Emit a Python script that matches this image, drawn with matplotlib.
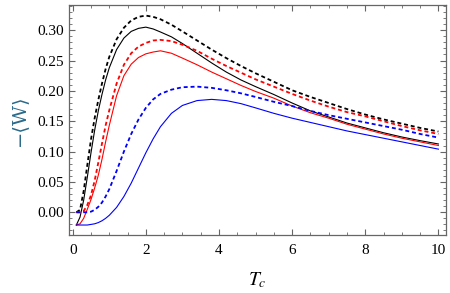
import matplotlib
matplotlib.use('Agg')
import matplotlib.pyplot as plt
from matplotlib.ticker import MultipleLocator

# Tc grid shared by all curves
tc = [0.1, 0.2, 0.3, 0.4, 0.5, 0.6, 0.7, 0.8, 0.9, 1.0, 1.2, 1.4, 1.6, 1.8,
      2.0, 2.2, 2.4, 2.7, 3.0, 3.4, 3.8, 4.2, 4.6, 5.0, 5.5, 6.0, 6.5, 7.0,
      7.5, 8.0, 8.5, 9.0, 9.5, 10.0]

black_dashed = [0.000, 0.004, 0.035, 0.078, 0.120, 0.155, 0.185, 0.212, 0.236, 0.256,
                0.285, 0.304, 0.316, 0.322, 0.324, 0.322, 0.318, 0.309, 0.298, 0.283,
                0.268, 0.254, 0.241, 0.229, 0.215, 0.201, 0.190, 0.180, 0.170, 0.161,
                0.153, 0.146, 0.139, 0.133]
black_solid = [-0.021, -0.008, 0.020, 0.058, 0.098, 0.135, 0.167, 0.194, 0.218, 0.238,
               0.268, 0.287, 0.298, 0.303, 0.305, 0.302, 0.297, 0.289, 0.278, 0.262,
               0.246, 0.231, 0.218, 0.207, 0.194, 0.180, 0.167, 0.157, 0.147, 0.139,
               0.131, 0.124, 0.118, 0.1125]
red_dashed = [0.000, 0.000, 0.002, 0.012, 0.028, 0.052, 0.082, 0.113, 0.143, 0.168,
              0.212, 0.243, 0.262, 0.273, 0.279, 0.283, 0.284, 0.282, 0.276, 0.266,
              0.253, 0.241, 0.230, 0.219, 0.207, 0.195, 0.184, 0.174, 0.165, 0.158,
              0.150, 0.142, 0.135, 0.129]
red_solid = [-0.021, -0.019, -0.010, 0.005, 0.021, 0.040, 0.061, 0.087, 0.116, 0.143,
             0.192, 0.225, 0.244, 0.255, 0.261, 0.264, 0.266, 0.262, 0.254, 0.243,
             0.231, 0.220, 0.209, 0.199, 0.188, 0.175, 0.164, 0.155, 0.145, 0.137,
             0.129, 0.122, 0.116, 0.110]
blue_dashed = [0.000, 0.000, 0.000, 0.000, 0.001, 0.004, 0.009, 0.016, 0.026, 0.038,
               0.068, 0.100, 0.129, 0.153, 0.172, 0.186, 0.195, 0.202, 0.206, 0.207,
               0.205, 0.201, 0.196, 0.190, 0.182, 0.175, 0.167, 0.160, 0.154, 0.148,
               0.142, 0.136, 0.129, 0.123]
blue_solid = [-0.021, -0.021, -0.021, -0.021, -0.020, -0.019, -0.017, -0.014, -0.010, -0.005,
              0.008, 0.026, 0.048, 0.073, 0.098, 0.121, 0.141, 0.163, 0.176, 0.184,
              0.186, 0.184, 0.179, 0.172, 0.163, 0.155, 0.148, 0.141, 0.134, 0.128,
              0.122, 0.116, 0.110, 0.104]

serif = 'Liberation Serif'
frame_col = '#666666'

fig = plt.figure(figsize=(4.5, 2.93), dpi=100)
ax = fig.add_axes([0.154, 0.197, 0.836, 0.786])

dash = (2.2, 1.6)
ax.plot(tc, black_dashed, color='black', lw=1.3, dashes=dash)
ax.plot(tc, black_solid, color='black', lw=0.8)
ax.plot(tc, red_dashed, color='red', lw=1.3, dashes=dash)
ax.plot(tc, red_solid, color='red', lw=0.8)
ax.plot(tc, blue_dashed, color='blue', lw=1.3, dashes=dash)
ax.plot(tc, blue_solid, color='blue', lw=0.8)

ax.set_xlim(-0.093, 10.194)
ax.set_ylim(-0.0379, 0.3415)

ax.xaxis.set_major_locator(MultipleLocator(2))
ax.xaxis.set_minor_locator(MultipleLocator(0.5))
ax.yaxis.set_major_locator(MultipleLocator(0.05))
ax.yaxis.set_minor_locator(MultipleLocator(0.01))
ax.yaxis.set_major_formatter(plt.FuncFormatter(lambda v, p: f'{v:.2f}'))

ax.tick_params(which='both', direction='in', top=True, right=True,
               color=frame_col, labelsize=11)
ax.tick_params(axis='x', which='major', pad=6)
ax.tick_params(which='major', length=4, width=0.8)
ax.tick_params(which='minor', length=2.2, width=0.6)
for lab in ax.get_xticklabels() + ax.get_yticklabels():
    lab.set_fontfamily(serif)
for s in ax.spines.values():
    s.set_color(frame_col)
    s.set_linewidth(0.9)

ax.set_xlabel(r'$T_c$', fontsize=14, labelpad=10,
              math_fontfamily='stix')
ax.set_ylabel('−⟨W⟩', fontsize=14, color='#2b6a8a', family='DejaVu Serif', labelpad=7)

fig.savefig('out.png', dpi=100)
